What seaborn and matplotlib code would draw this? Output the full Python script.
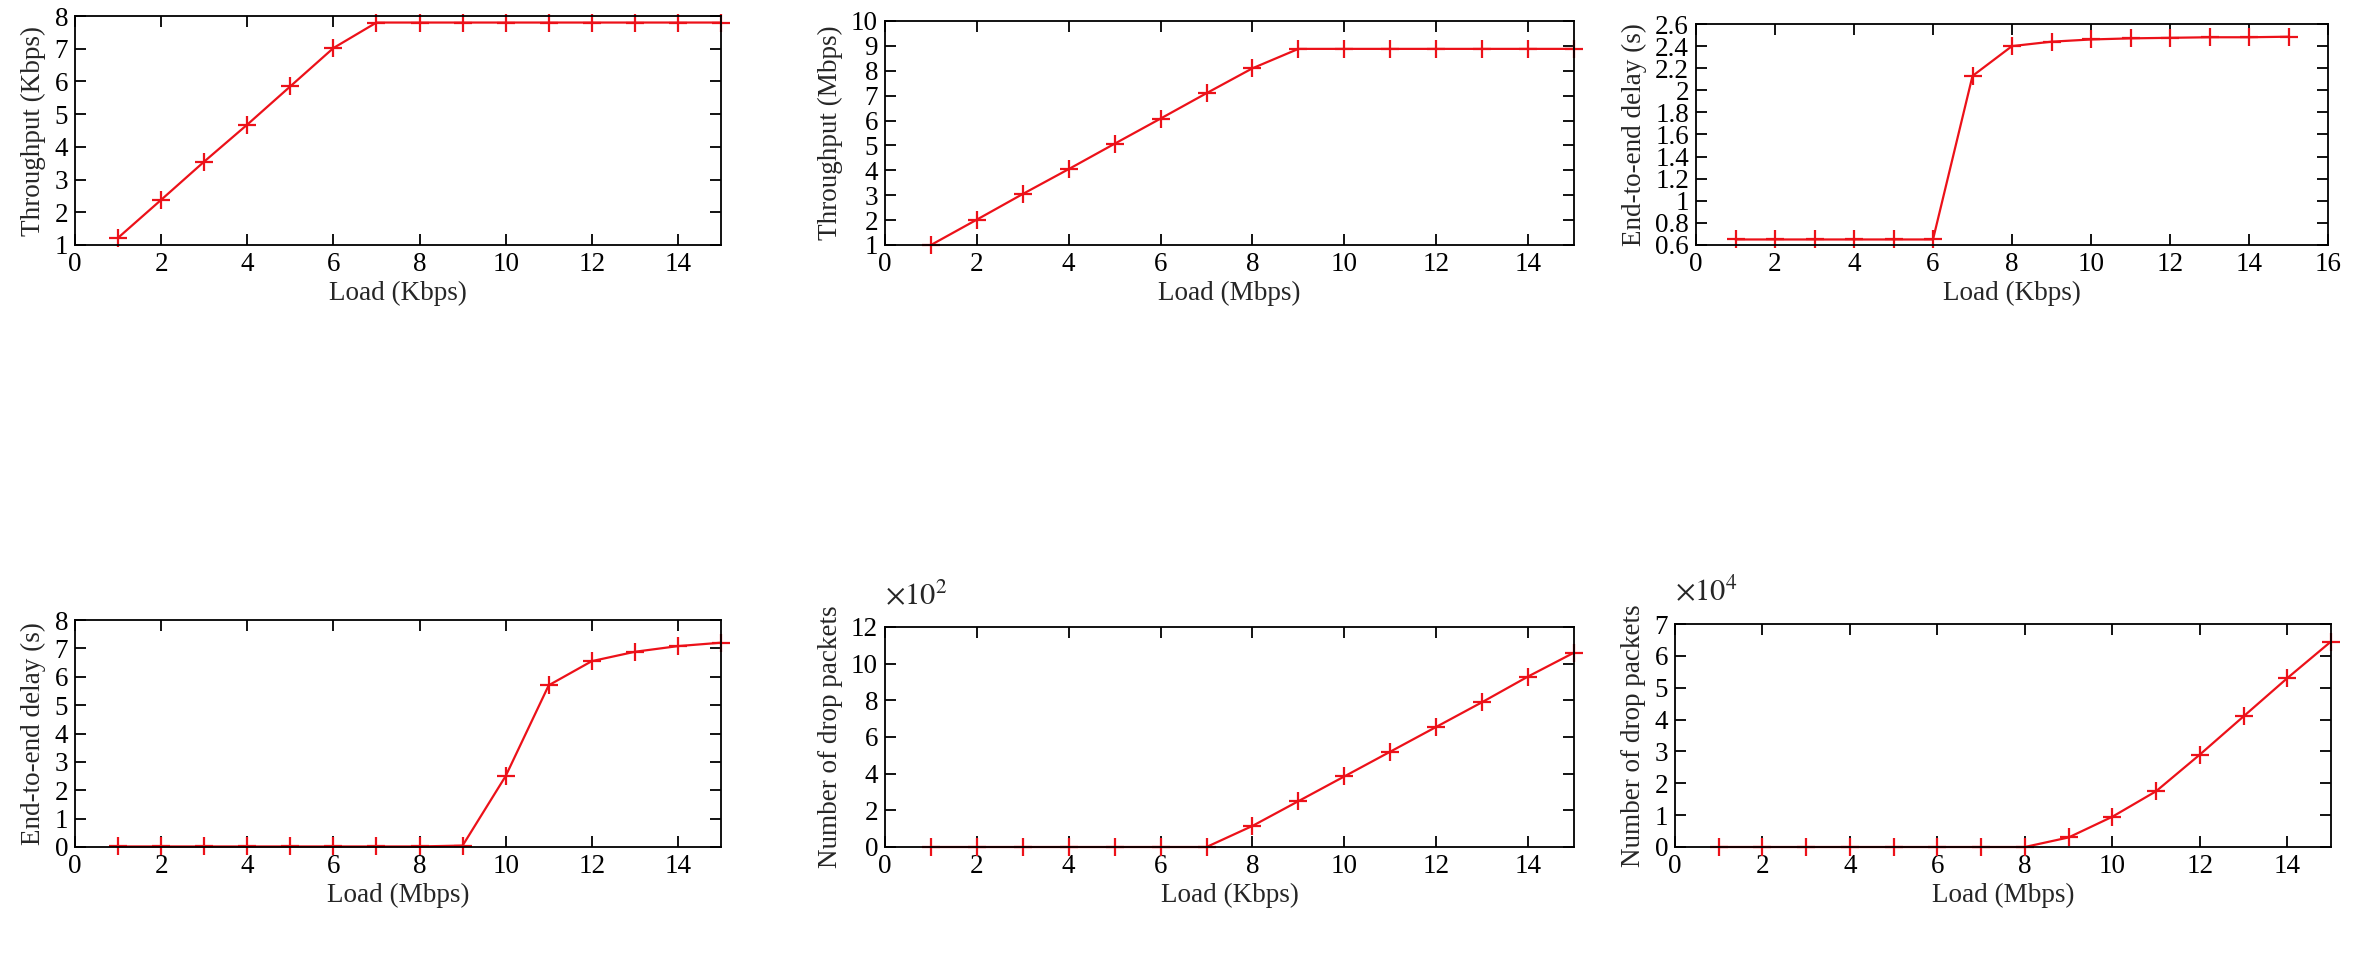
import matplotlib
matplotlib.use("Agg")
import matplotlib.pyplot as plt
import seaborn as sns
import pandas as pd

# ---------------- data ----------------
load = list(range(1, 16))

thr_kbps = [1.22, 2.38, 3.55, 4.68, 5.85, 7.02, 7.80, 7.80, 7.80, 7.80, 7.80, 7.80, 7.80, 7.80, 7.80]
thr_mbps = [1.00, 2.02, 3.05, 4.05, 5.07, 6.08, 7.10, 8.10, 8.88, 8.88, 8.88, 8.88, 8.88, 8.88, 8.88]
delay_kbps = [0.65, 0.65, 0.65, 0.65, 0.65, 0.65, 2.13, 2.40, 2.44, 2.46, 2.47, 2.475, 2.48, 2.48, 2.485]
delay_mbps = [0.02, 0.02, 0.02, 0.02, 0.02, 0.02, 0.02, 0.02, 0.05, 2.50, 5.70, 6.55, 6.88, 7.08, 7.20]
drop_kbps_e2 = [0, 0, 0, 0, 0, 0, 0, 1.15, 2.50, 3.85, 5.20, 6.55, 7.90, 9.30, 10.60]
drop_mbps_e4 = [0, 0, 0, 0, 0, 0, 0, 0, 0.30, 0.95, 1.75, 2.90, 4.10, 5.30, 6.45]

xlabels = ["Load (Kbps)", "Load (Mbps)", "Load (Kbps)", "Load (Mbps)", "Load (Kbps)", "Load (Mbps)"]
ylabels = ["Throughput (Kbps)", "Throughput (Mbps)", "End-to-end delay (s)",
           "End-to-end delay (s)", "Number of drop packets", "Number of drop packets"]
series = [thr_kbps, thr_mbps, delay_kbps, delay_mbps, drop_kbps_e2, drop_mbps_e4]
xlims = [(0, 15), (0, 15), (0, 16), (0, 15), (0, 15), (0, 15)]
xtick_sets = [list(range(0, 15, 2)), list(range(0, 15, 2)), list(range(0, 17, 2)),
              list(range(0, 15, 2)), list(range(0, 15, 2)), list(range(0, 15, 2))]
ylims = [(1, 8), (1, 10), (0.6, 2.6), (0, 8), (0, 12), (0, 7)]
ytick_sets = [list(range(1, 9)), list(range(1, 11)),
              [0.6, 0.8, 1.0, 1.2, 1.4, 1.6, 1.8, 2.0, 2.2, 2.4, 2.6],
              list(range(0, 9)), list(range(0, 13, 2)), list(range(0, 8))]
offsets = [None, None, None, None, r"$\times10^{2}$", r"$\times10^{4}$"]

# ---------------- style ----------------
sns.set_theme(style="ticks")
plt.rcParams["font.family"] = ["Liberation Serif", "DejaVu Serif"]
plt.rcParams["mathtext.fontset"] = "stix"
plt.rcParams["axes.linewidth"] = 1.3
plt.rcParams["xtick.direction"] = "in"
plt.rcParams["ytick.direction"] = "in"

W, H = 2360, 958
fig = plt.figure(figsize=(W / 100, H / 100), dpi=100)

# pixel boxes: (left, right, top, bottom)
boxes = [(75, 721, 16, 245), (885, 1574, 21, 245), (1696, 2328, 24, 245),
         (75, 721, 620, 847), (885, 1574, 627, 847), (1675, 2331, 624, 847)]

RED = "#ec1119"

def fmt(v):
    return f"{v:g}"

for i in range(6):
    l, r, t, b = boxes[i]
    ax = fig.add_axes([l / W, 1 - b / H, (r - l) / W, (b - t) / H])
    df = pd.DataFrame({"load": load, "val": series[i]})
    sns.lineplot(data=df, x="load", y="val", ax=ax, color=RED, marker="+",
                 markersize=13, markeredgewidth=1.6, linewidth=1.6,
                 markeredgecolor=RED, clip_on=False)
    ax.set_xlim(*xlims[i])
    ax.set_ylim(*ylims[i])
    ax.set_xticks(xtick_sets[i])
    ax.set_xticklabels([fmt(v) for v in xtick_sets[i]])
    ax.set_yticks(ytick_sets[i])
    ax.set_yticklabels([fmt(v) for v in ytick_sets[i]])
    ax.tick_params(axis="both", which="major", direction="in", length=8, width=1.3,
                   top=True, right=True, labelsize=19.5, pad=5, colors="black")
    ax.set_xlabel(xlabels[i], fontsize=19.5, labelpad=3)
    ax.set_ylabel(ylabels[i], fontsize=19.5, labelpad=6)
    for sp in ax.spines.values():
        sp.set_visible(True)
        sp.set_color("black")
    if offsets[i] is not None:
        ax.text(0.0, 1.07, offsets[i], transform=ax.transAxes, fontsize=22,
                ha="left", va="bottom")

fig.savefig("out.png", dpi=100, facecolor="white")
